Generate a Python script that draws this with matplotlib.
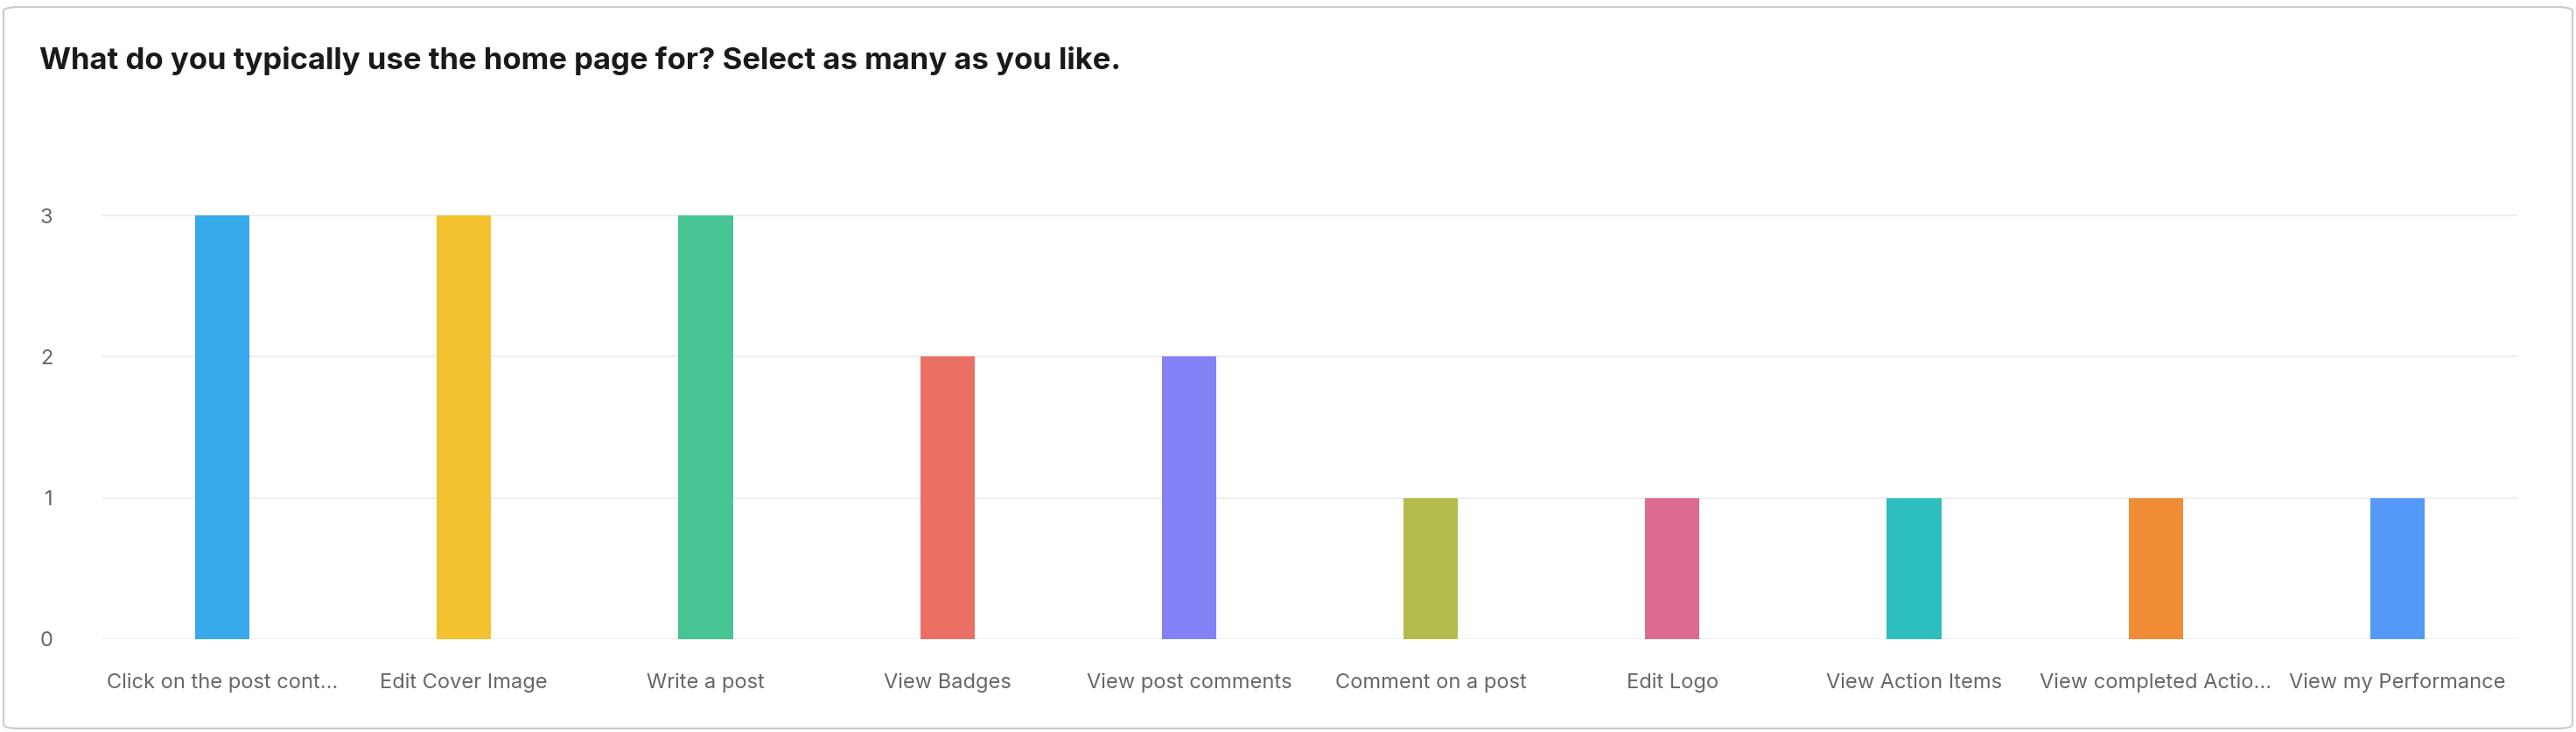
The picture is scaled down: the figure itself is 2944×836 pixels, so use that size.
import matplotlib.pyplot as plt
from matplotlib.patches import FancyBboxPatch

# Survey answers (counts of respondents per option)
categories = [
    "Click on the post cont...",
    "Edit Cover Image",
    "Write a post",
    "View Badges",
    "View post comments",
    "Comment on a post",
    "Edit Logo",
    "View Action Items",
    "View completed Actio...",
    "View my Performance",
]
counts = [3, 3, 3, 2, 2, 1, 1, 1, 1, 1]
bar_colors = [
    "#35A9EA", "#F3C12F", "#47C494", "#EA7066", "#8481F7",
    "#B3BB4C", "#DD6A90", "#2DBFBE", "#EF8C35", "#5499F8",
]
y_ticks = [0, 1, 2, 3]
title = "What do you typically use the home page for? Select as many as you like."

W, H = 2944, 836
fig = plt.figure(figsize=(W / 100, H / 100), dpi=100)
fig.patch.set_facecolor("white")

# card border
card = FancyBboxPatch((4 / W, 4 / H), (W - 8) / W, (H - 12) / H,
                      boxstyle="round,pad=0,rounding_size=0.006",
                      transform=fig.transFigure, facecolor="none",
                      edgecolor="#cccccc", linewidth=1.6, zorder=-1)
fig.patches.append(card)

fig.text(45 / W, 1 - 69 / H, title, fontsize=25, fontweight="bold",
         family=["Inter", "DejaVu Sans"], color="#1a1a1a", va="center", ha="left")

ax = fig.add_axes([116 / W, 106 / H, (2878 - 116) / W, (730 - 226) / H])
x = list(range(len(categories)))
ax.bar(x, counts, width=0.225, color=bar_colors, zorder=3)

ax.set_xlim(-0.5, len(categories) - 0.5)
ax.set_ylim(0, 3.125)
ax.set_yticks(y_ticks)
ax.set_xticks(x)
ax.set_xticklabels(categories)
for s in ax.spines.values():
    s.set_visible(False)
ax.grid(axis="y", color="#efefef", linewidth=1.6, zorder=0)
ax.tick_params(axis="both", length=0, colors="#666666", labelsize=17)
ax.tick_params(axis="x", pad=28)
ax.tick_params(axis="y", pad=40)
for lbl in ax.get_xticklabels() + ax.get_yticklabels():
    lbl.set_family(["Inter", "DejaVu Sans"])

fig.savefig("out.png", dpi=100, facecolor="white")
